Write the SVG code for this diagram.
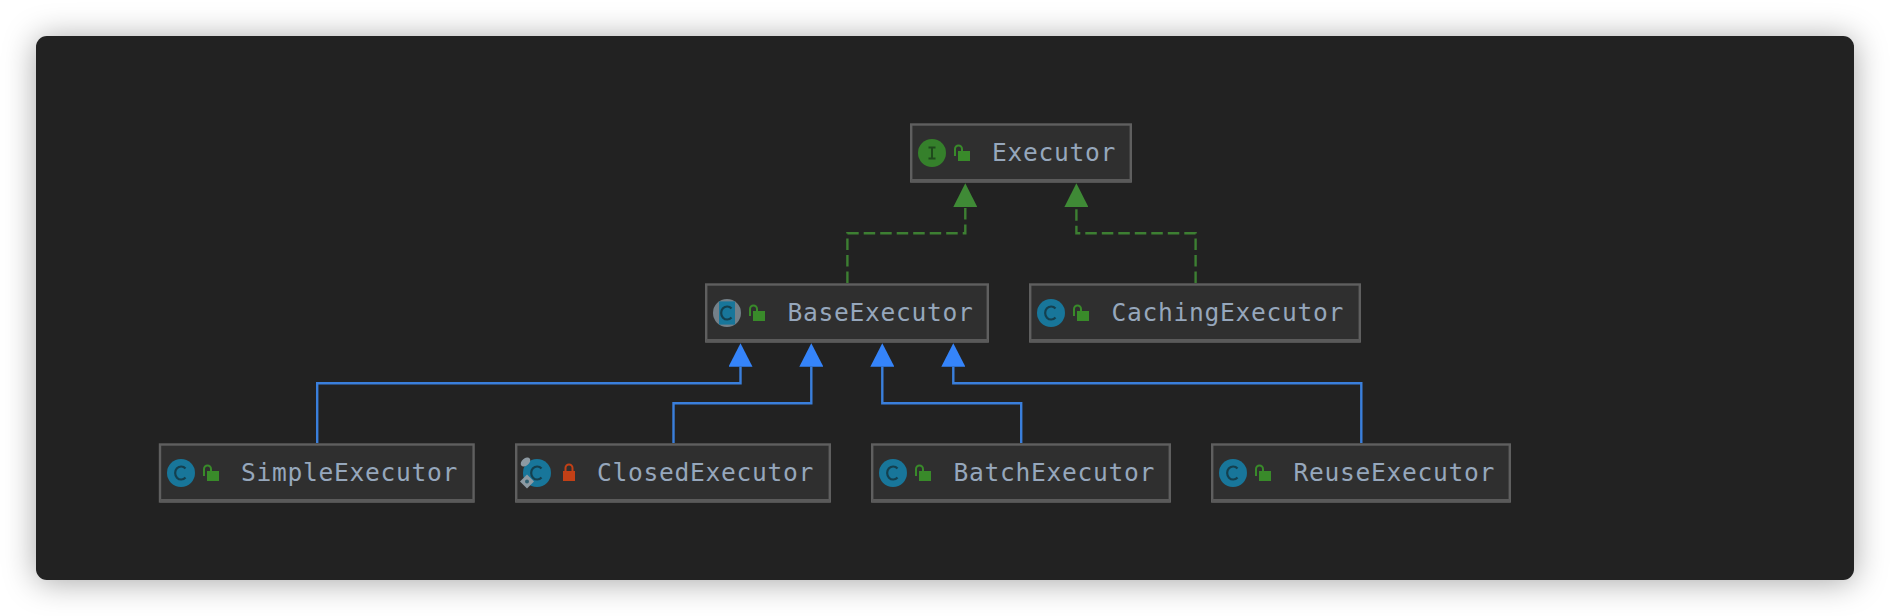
<svg xmlns="http://www.w3.org/2000/svg" width="1890" height="616" viewBox="0 0 1890 616">
<style>
.box{fill:#2f2f2f;stroke:#5f5f5f;stroke-width:2.4}
.foot{fill:#5a5a5a}
.label{font-family:"DejaVu Sans Mono","Liberation Mono",monospace;font-size:24.6px;fill:#96a7bc;letter-spacing:.7px}
.cls{fill:#18769a}
.glyph{fill:none;stroke:#14404f;stroke-width:2.2}
.real{fill:none;stroke:#3d7f32;stroke-width:2.4;stroke-dasharray:11.5 5}
.ext{fill:none;stroke:#3a7fdc;stroke-width:2.4}
</style>
<defs>
<filter id="sh" x="-10%" y="-20%" width="120%" height="140%"><feDropShadow dx="0" dy="2" stdDeviation="16" flood-color="#000" flood-opacity=".35"/></filter>
<marker id="ag" viewBox="0 -12 24 24" markerWidth="24" markerHeight="24" refX="0" refY="0" markerUnits="userSpaceOnUse" orient="auto"><path d="M0-12L23.7 0L0 12Z" fill="#3f8a36"/></marker>
<marker id="ab" viewBox="0 -12 24 24" markerWidth="24" markerHeight="24" refX="0" refY="0" markerUnits="userSpaceOnUse" orient="auto"><path d="M0-12L23.4 0L0 12Z" fill="#3584fa"/></marker>
<g id="open"><rect x="4" y="6" width="12" height="10" fill="#398a2a"/><path d="M1 11V4A3.500 3.500 0 0 1 8 4V6" fill="none" stroke="#398a2a" stroke-width="2"/></g>
<g id="closed"><rect x="0" y="6" width="12" height="10" fill="#c24016"/><path d="M2.500 6V3A3.500 3.500 0 0 1 9.500 3V6" fill="none" stroke="#c24016" stroke-width="2"/></g>
<g id="c"><circle r="14" class="cls"/><path d="M4.500-4.500A6 6.500 0 1 0 4.500 4.500" class="glyph"/></g>
</defs>
<rect width="1890" height="616" fill="#fff"/>
<rect x="36" y="36" width="1818" height="544" rx="11" fill="#202020" filter="url(#sh)"/>
<g id="connectors">
<path class="real" d="M847.400 283V233.300H965.300V207" marker-end="url(#ag)"/>
<path class="real" d="M1195.600 283V233.300H1076.400V207" marker-end="url(#ag)"/>
<path class="ext" d="M317.200 443V383.300H740.500V366.700" marker-end="url(#ab)"/>
<path class="ext" d="M673.500 443V403.300H811.300V366.700" marker-end="url(#ab)"/>
<path class="ext" d="M1021.200 443V403.300H882.300V366.700" marker-end="url(#ab)"/>
<path class="ext" d="M1361.300 443V383.300H953.300V366.700" marker-end="url(#ab)"/>
</g>
<g id="Executor">
<rect class="box" x="911.200" y="124.500" width="219.600" height="57"/><rect class="foot" x="911" y="179" width="220" height="3.500"/>
<circle cx="932" cy="153" r="14" fill="#35802b"/><path d="M928.500 147.500h7M932 147.500v11M928.500 158.500h7" fill="none" stroke="#1f4a1c" stroke-width="2"/>
<use href="#open" x="954" y="145"/>
<text class="label" x="992" y="161">Executor</text>
</g>
<g id="BaseExecutor">
<rect class="box" x="706.200" y="284.500" width="281.600" height="57"/><rect class="foot" x="706" y="339" width="282" height="3.500"/>
<circle cx="727" cy="313" r="14" fill="#738089"/><path d="M719 301.400H735V324.600H719Z" class="cls"/><path d="M731.500 308.500A6 6.500 0 1 0 731.500 317.500" class="glyph"/>
<use href="#open" x="749" y="305"/>
<text class="label" x="787.500" y="321">BaseExecutor</text>
</g>
<g id="CachingExecutor">
<rect class="box" x="1030.200" y="284.500" width="329.600" height="57"/><rect class="foot" x="1030" y="339" width="330" height="3.500"/>
<use href="#c" x="1051" y="313"/>
<use href="#open" x="1073" y="305"/>
<text class="label" x="1111.500" y="321">CachingExecutor</text>
</g>
<g id="SimpleExecutor">
<rect class="box" x="160" y="444.500" width="313.600" height="57"/><rect class="foot" x="160" y="499" width="314" height="3.500"/>
<use href="#c" x="181" y="473"/>
<use href="#open" x="203" y="465"/>
<text class="label" x="241" y="481">SimpleExecutor</text>
</g>
<g id="ClosedExecutor">
<rect class="box" x="516.200" y="444.500" width="313.600" height="57"/><rect class="foot" x="516" y="499" width="314" height="3.500"/>
<use href="#c" x="537" y="473"/>
<ellipse cx="525.500" cy="462" rx="5.500" ry="3.500" transform="rotate(-40 525.500 462)" fill="#8d9aa3"/>
<path d="M527 474.500L534 481.500L527 488.500L520 481.500Z" fill="#8d9aa3"/><circle cx="527" cy="481.500" r="2" fill="#2f5f70"/>
<use href="#closed" x="563" y="465"/>
<text class="label" x="597" y="481">ClosedExecutor</text>
</g>
<g id="BatchExecutor">
<rect class="box" x="872.200" y="444.500" width="297.600" height="57"/><rect class="foot" x="872" y="499" width="298" height="3.500"/>
<use href="#c" x="893" y="473"/>
<use href="#open" x="915" y="465"/>
<text class="label" x="953.500" y="481">BatchExecutor</text>
</g>
<g id="ReuseExecutor">
<rect class="box" x="1212.200" y="444.500" width="297.600" height="57"/><rect class="foot" x="1212" y="499" width="298" height="3.500"/>
<use href="#c" x="1233" y="473"/>
<use href="#open" x="1255" y="465"/>
<text class="label" x="1293.500" y="481">ReuseExecutor</text>
</g>
</svg>
